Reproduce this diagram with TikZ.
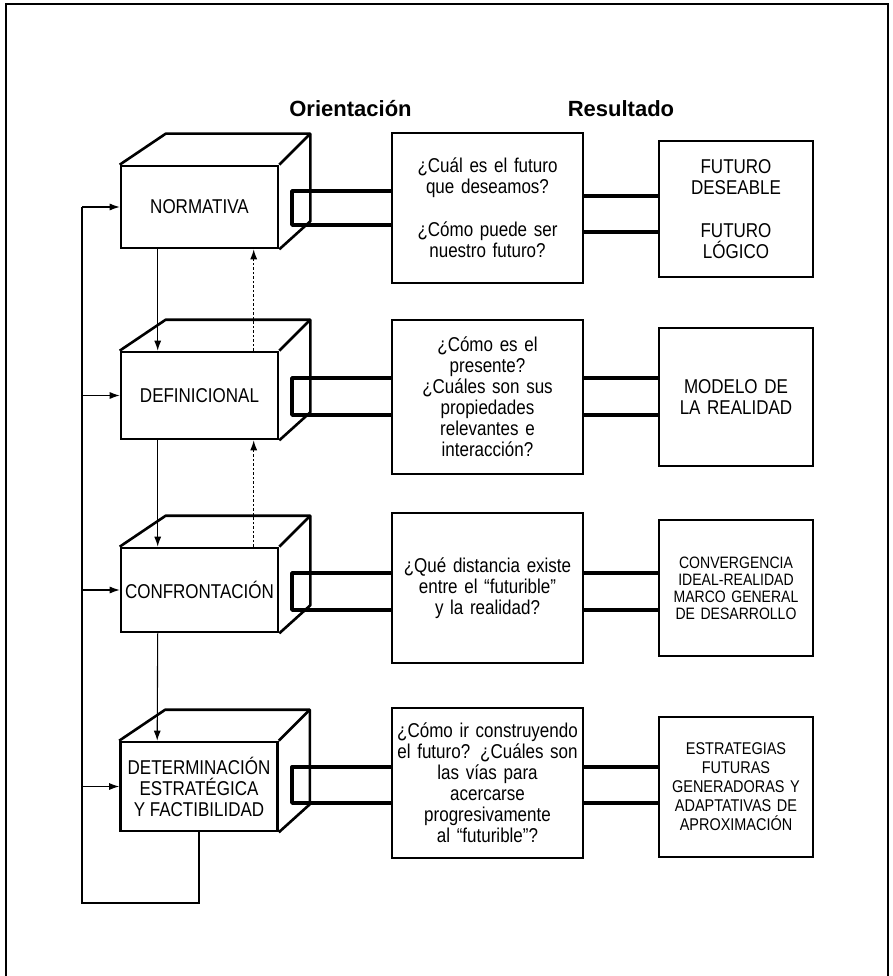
\documentclass[tikz,border=0pt]{standalone}
\usepackage{fontspec}
\setmainfont{Liberation Sans}[FakeStretch=0.85]
\newfontfamily\titlefont{Liberation Sans}
\usetikzlibrary{arrows.meta,calc}
\newcommand\drawcubedepth[1]{%
  \draw[cubeline] (#1.north west) -- ++(46,-31) -- ($(#1.north east)+(31,-31)$)
    -- ($(#1.south east)+(31,-28)$) -- (#1.south east);
  \draw[cubeline] (#1.north east) -- ++(31,-31);}
\begin{document}
\begin{tikzpicture}[x=1pt,y=-1pt,
  cubeline/.style={line width=2.6pt, line join=round},
  cubeface/.style={draw, line width=2.6pt, minimum width=157pt, inner sep=1pt, align=center,
    font=\fontsize{20}{21}\selectfont},
  qbox/.style={draw, line width=2.4pt, text width=185pt, inner sep=3pt, align=center,
    font=\fontsize{20}{21}\selectfont},
  rbox/.style={draw, line width=2.4pt, text width=148pt, inner sep=3pt, align=center,
    font=\fontsize{20}{21}\selectfont},
  smallr/.style={font=\fontsize{16.5}{17}\selectfont},
  tube/.style={line width=3.4pt, line join=round},
  flow/.style={line width=1.1pt, -{Latex[length=10pt,width=7pt]}},
  backflow/.style={line width=1.1pt, dash pattern=on 2.5pt off 2pt, -{Latex[length=10pt,width=7pt]}},
  plain/.style={line width=1.1pt},
  frame/.style={line width=2.6pt},
  title/.style={font=\titlefont\bfseries\fontsize{22}{24}\selectfont, anchor=base}
]
\useasboundingbox (0,0) rectangle (892,976);
\draw[frame] (6,976) -- (6,4) -- (888,4) -- (888,976);

% titles
\node[title] (tor) at (350.5,117) {Orientación};
\node[title] (tre) at (621,117) {Resultado};

% cubes (front faces)
\node[cubeface, minimum height=82pt] (n1) at (199.5,207) {NORMATIVA};
\node[cubeface, minimum height=87pt] (n2) at (199.5,395.5) {DEFINICIONAL};
\node[cubeface, minimum height=84pt] (n3) at (199.5,590) {CONFRONTACIÓN};
\node[cubeface, minimum height=89pt] (n4) at (199,786.5) {DETERMINACIÓN\\ESTRATÉGICA\\Y FACTIBILIDAD};
\drawcubedepth{n1}
\drawcubedepth{n2}
\drawcubedepth{n3}
\drawcubedepth{n4}

% question boxes
\node[qbox, minimum height=150pt] (q1) at (487.5,208)
  {¿Cuál es el futuro\\que deseamos?\\[22pt]¿Cómo puede ser\\nuestro futuro?};
\node[qbox, minimum height=154pt] (q2) at (487.5,397)
  {¿Cómo es el\\presente?\\¿Cuáles son sus\\propiedades\\relevantes e\\interacción?};
\node[qbox, minimum height=150pt] (q3) at (487.5,588)
  {¿Qué distancia existe\\entre el “futurible”\\y la realidad?};
\node[qbox, minimum height=150pt] (q4) at (487.5,783)
  {¿Cómo ir construyendo\\el futuro? ¿Cuáles son\\las vías para\\acercarse\\progresivamente\\al “futurible”?};

% result boxes
\node[rbox, minimum height=136pt] (r1) at (736,209)
  {FUTURO\\DESEABLE\\[22pt]FUTURO\\LÓGICO};
\node[rbox, minimum height=138pt] (r2) at (736,397)
  {MODELO DE\\LA REALIDAD};
\node[rbox, smallr, minimum height=136pt] (r3) at (736,588)
  {CONVERGENCIA\\IDEAL-REALIDAD\\MARCO GENERAL\\DE DESARROLLO};
\node[rbox, font=\fontsize{17}{19}\selectfont, minimum height=140pt] (r4) at (736,787)
  {ESTRATEGIAS\\FUTURAS\\GENERADORAS Y\\ADAPTATIVAS DE\\APROXIMACIÓN};

% tubes: cube -> question
\coordinate (t1a) at (292,191); \coordinate (t1b) at (292,225);
\coordinate (t2a) at (292,378); \coordinate (t2b) at (292,415);
\coordinate (t3a) at (292,573); \coordinate (t3b) at (292,610);
\coordinate (t4a) at (292,767); \coordinate (t4b) at (292,803);
\foreach \i in {1,2,3,4}{
  \draw[tube] (q\i.west |- t\i a) -- (t\i a) -- (t\i b) -- (q\i.west |- t\i b);
}
% tubes: question -> result
\coordinate (u1a) at (0,196); \coordinate (u1b) at (0,232);
\coordinate (u2a) at (0,378); \coordinate (u2b) at (0,415);
\coordinate (u3a) at (0,573); \coordinate (u3b) at (0,610);
\coordinate (u4a) at (0,767); \coordinate (u4b) at (0,803);
\foreach \i in {1,2,3,4}{
  \draw[tube] (q\i.east |- u\i a) -- (r\i.west |- u\i a);
  \draw[tube] (q\i.east |- u\i b) -- (r\i.west |- u\i b);
}

% downward flow
\foreach \a/\b in {n1/n2,n2/n3,n3/n4}{
  \draw[flow] ($(\a.south west)+(38,0)$) -- ($(\b.north west)+(38,0)$);
}
% upward dotted feedback
\foreach \a/\b in {n2/n1,n3/n2}{
  \draw[backflow] ($(\a.north west)+(134,0)$) -- ($(\b.south west)+(134,0)$);
}

% left loop
\coordinate (loopc) at (82,903);
\coordinate (loopt) at (82,207);
\draw[plain] (n4.south) |- (loopc) -- (loopt);
\draw[flow] (loopt) -- (n1.west);
\foreach \n in {n2,n3,n4}{
  \draw[flow] (loopc |- \n.west) -- (\n.west);
}
\end{tikzpicture}
\end{document}
